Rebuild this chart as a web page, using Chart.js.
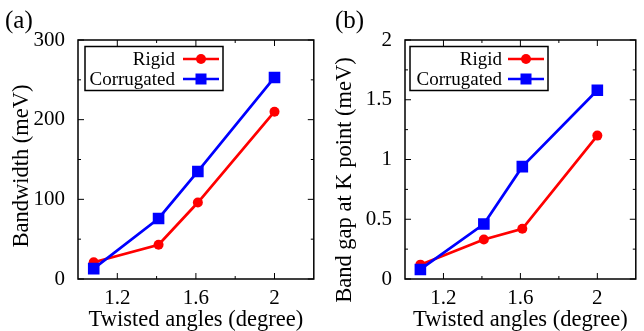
<!DOCTYPE html>
<html>
<head>
<meta charset="utf-8">
<script src="https://cdn.jsdelivr.net/npm/chart.js@4.4.1/dist/chart.umd.min.js"></script>
<style>
  body { margin: 0; background: #fff; }
  .painel { position: absolute; top: 0; width: 322px; height: 331px; }
</style>
</head>
<body>
<div class="painel" style="left:0"><canvas id="graficoA" width="322" height="331"></canvas></div>
<div class="painel" style="left:322px"><canvas id="graficoB" width="322" height="331"></canvas></div>
<script>
// dados
const angulos = [1.08, 1.41, 1.61, 2.0];
const bandwidthRigid = [21, 43, 96, 210];
const bandwidthCorrugated = [13, 76, 135, 253];
const gapRigid = [0.12, 0.33, 0.42, 1.2];
const gapCorrugated = [0.08, 0.46, 0.94, 1.58];

const xMajor = [1.2, 1.6, 2];
const xMinor = [1.4, 1.8];
const bandwidthMajor = [0, 100, 200, 300];
const bandwidthMinor = [50, 150, 250];
const gapMajor = [0, 0.5, 1, 1.5, 2];
const gapMinor = [0.25, 0.75, 1.25, 1.75];

const serif = "'Liberation Serif', 'Times New Roman', serif";
Chart.defaults.font.family = serif;
Chart.defaults.color = "#000";

function pontos(ys) {
  return angulos.map((x, i) => ({ x: x, y: ys[i] }));
}

// moldura, marcas internas, legenda e rotulos
const molduraPlugin = {
  id: "moldura",
  afterDraw(chart, args, o) {
    const ctx = chart.ctx;
    const a = chart.chartArea;
    const sx = chart.scales.x;
    const sy = chart.scales.y;
    ctx.save();

    ctx.strokeStyle = "#000";
    ctx.lineWidth = 1;
    ctx.beginPath();
    const marcaX = (v, len) => {
      const px = sx.getPixelForValue(v);
      ctx.moveTo(px, a.bottom); ctx.lineTo(px, a.bottom - len);
      ctx.moveTo(px, a.top); ctx.lineTo(px, a.top + len);
    };
    const marcaY = (v, len) => {
      const py = sy.getPixelForValue(v);
      ctx.moveTo(a.left, py); ctx.lineTo(a.left + len, py);
      ctx.moveTo(a.right, py); ctx.lineTo(a.right - len, py);
    };
    xMajor.forEach(v => marcaX(v, 6));
    xMinor.forEach(v => marcaX(v, 3));
    o.yMajor.forEach(v => marcaY(v, 6));
    o.yMinor.forEach(v => marcaY(v, 3));
    ctx.stroke();

    ctx.lineWidth = 1.5;
    ctx.strokeRect(a.left, a.top, a.right - a.left, a.bottom - a.top);

    // legenda
    const bx = a.left + o.legX, by = a.top + 6.5;
    ctx.fillStyle = "#fff";
    ctx.fillRect(bx, by, 138, 44);
    ctx.lineWidth = 1.5;
    ctx.strokeRect(bx, by, 138, 44);
    ctx.font = "19px " + serif;
    ctx.textAlign = "right";
    ctx.textBaseline = "middle";
    chart.data.datasets.forEach((ds, i) => {
      const ly = by + 12.5 + i * 20;
      ctx.fillStyle = "#000";
      ctx.fillText(ds.label, bx + o.textoX, ly + 1);
      ctx.strokeStyle = ds.borderColor;
      ctx.lineWidth = ds.borderWidth;
      ctx.beginPath();
      ctx.moveTo(bx + 98, ly);
      ctx.lineTo(bx + 134, ly);
      ctx.stroke();
      ctx.fillStyle = ds.borderColor;
      const mx = bx + 116;
      if (ds.pointStyle === "rect") {
        ctx.fillRect(mx - 5.5, ly - 5.5, 11, 11);
      } else {
        ctx.beginPath();
        ctx.arc(mx, ly, 5, 0, Math.PI * 2);
        ctx.fill();
      }
    });

    // titulo do eixo y
    ctx.fillStyle = "#000";
    ctx.font = "22.5px " + serif;
    ctx.textAlign = "center";
    ctx.textBaseline = "middle";
    ctx.save();
    ctx.translate(o.tituloX, o.tituloY);
    ctx.rotate(-Math.PI / 2);
    ctx.fillText(o.titulo, 0, 0);
    ctx.restore();

    // (a) / (b)
    ctx.font = "25px " + serif;
    ctx.textAlign = "left";
    ctx.textBaseline = "alphabetic";
    ctx.fillText(o.painel, o.painelX, 28);

    ctx.restore();
  }
};

function criarGrafico(id, rigid, corrugated, yMax, yMajor, yMinor, extra) {
  return new Chart(document.getElementById(id), {
    type: "line",
    data: {
      datasets: [
        {
          label: "Rigid",
          data: pontos(rigid),
          borderColor: "#ff0000",
          backgroundColor: "#ff0000",
          borderWidth: 2.7,
          pointStyle: "circle",
          pointRadius: 5,
          pointBorderWidth: 0,
          order: 1,
        },
        {
          label: "Corrugated",
          data: pontos(corrugated),
          borderColor: "#0000ff",
          backgroundColor: "#0000ff",
          borderWidth: 2.7,
          pointStyle: "rect",
          pointRadius: 8.2,
          pointBorderWidth: 0,
          order: 0,
        },
      ],
    },
    options: {
      responsive: false,
      animation: false,
      devicePixelRatio: 1,
      layout: { padding: { top: 40, right: extra.padDir, left: 0, bottom: 0 } },
      plugins: {
        legend: { display: false },
        tooltip: { enabled: false },
        moldura: {
          yMajor: yMajor,
          yMinor: yMinor,
          legX: extra.legX,
          textoX: extra.textoX,
          titulo: extra.titulo,
          tituloX: extra.tituloX,
          tituloY: extra.tituloY,
          painel: extra.painel,
          painelX: extra.painelX,
        },
      },
      scales: {
        x: {
          type: "linear",
          min: 1,
          max: 2.2,
          afterBuildTicks: s => { s.ticks = xMajor.map(v => ({ value: v })); },
          afterFit: s => { s.height = 52; },
          grid: { display: false },
          border: { display: false },
          ticks: { font: { size: 21, lineHeight: 1 }, padding: 1, maxRotation: 0, callback: v => String(v) },
          title: {
            display: true,
            text: "Twisted angles (degree)",
            font: { size: 22.5, lineHeight: 1 },
            padding: 0,
          },
        },
        y: {
          min: 0,
          max: yMax,
          afterBuildTicks: s => { s.ticks = yMajor.map(v => ({ value: v })); },
          afterFit: s => { s.width = extra.larguraY; },
          grid: { display: false },
          border: { display: false },
          ticks: { font: { size: 21 }, padding: 5, callback: v => String(v) },
        },
      },
    },
    plugins: [molduraPlugin],
  });
}

criarGrafico("graficoA", bandwidthRigid, bandwidthCorrugated, 300, bandwidthMajor, bandwidthMinor, {
  padDir: 6, larguraY: 78, legX: 7, textoX: 90,
  titulo: "Bandwidth (meV)", tituloX: 22, tituloY: 166,
  painel: "(a)", painelX: 5,
});

criarGrafico("graficoB", gapRigid, gapCorrugated, 2, gapMajor, gapMinor, {
  padDir: 1, larguraY: 83, legX: 5, textoX: 92,
  titulo: "Band gap at K point (meV)", tituloX: 23, tituloY: 180,
  painel: "(b)", painelX: 13,
});
</script>
</body>
</html>
